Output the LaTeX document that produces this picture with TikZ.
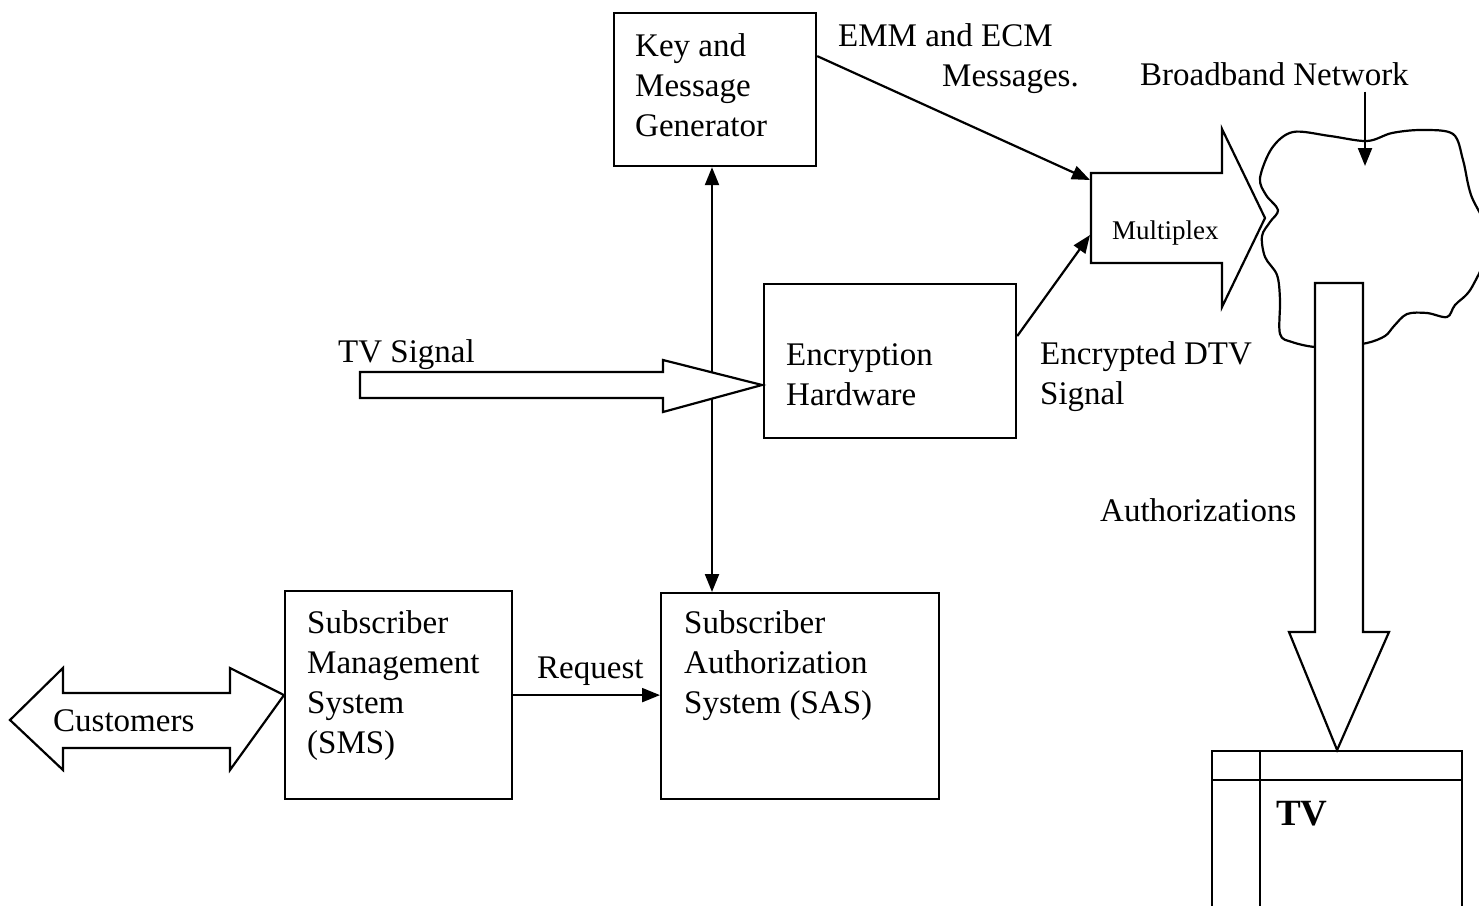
\documentclass[tikz,border=0pt]{standalone}
\usepackage{fontspec}
\setmainfont{Liberation Serif}
\usetikzlibrary{arrows.meta}
\newcommand\mylines[1]{\begin{tabular}[t]{@{}l@{}}#1\end{tabular}}
\begin{document}
\begin{tikzpicture}[x=1pt,y=-1pt,
  box/.style={draw, line width=2.2pt, inner sep=0pt, anchor=north west},
  txt/.style={anchor=base west, inner sep=0pt, font=\fontsize{33}{40}\selectfont},
  conn/.style={line width=2.2pt, -{Triangle[length=18pt,width=14pt]}},
  dconn/.style={line width=2.2pt, {Triangle[length=18pt,width=14pt]}-{Triangle[length=18pt,width=14pt]}},
  fat/.style={draw, line width=2.2pt, fill=white, line join=miter},
  plain/.style={line width=2.2pt}]
\useasboundingbox (0,0) rectangle (1479,905);

% boxes
\node[box, minimum width=202pt, minimum height=153pt] (kmg) at (613,12) {};
\node[box, minimum width=252pt, minimum height=154pt] (enc) at (763,283) {};
\node[box, minimum width=227pt, minimum height=208pt] (sms) at (284,590) {};
\node[box, minimum width=278pt, minimum height=206pt] (sas) at (660,592) {};

% box texts
\node[txt] (kmgt) at (635,56) {\mylines{Key and\\Message\\Generator}};
\node[txt] (enct) at (786,365) {\mylines{Encryption\\Hardware}};
\node[txt] (smst) at (307,633) {\mylines{Subscriber\\Management\\System\\(SMS)}};
\node[txt] (sast) at (684,633) {\mylines{Subscriber\\Authorization\\System (SAS)}};

% labels
\node[txt] (emm1) at (838,46) {EMM and ECM};
\node[txt] (emm2) at (942,86) {Messages.};
\node[txt] (bbn) at (1140,85) {Broadband Network};
\node[txt] (tvs) at (338,362) {TV Signal};
\node[txt] (edtv) at (1040,364) {\mylines{Encrypted DTV\\Signal}};
\node[txt] (auth) at (1100,521) {Authorizations};
\node[txt] (req) at (537,678) {Request};

% vertical double connector (behind TV signal arrow)
\coordinate (vx) at (712,0);
\draw[dconn] (kmg.south -| vx) -- (sas.north -| vx);

% TV signal fat arrow
\draw[fat] (360,372) -- (663,372) -- (663,360) -- (762,385) -- (663,412) -- (663,398) -- (360,398) -- cycle;

% cloud
\draw[plain, line join=round] plot[smooth cycle, tension=0.55] coordinates {
 (1260,178) (1272,148) (1293,132) (1330,136) (1367,141) (1392,133) (1422,130)
 (1453,134) (1463,160) (1471,195) (1490,240) (1472,287) (1455,305) (1447,317)
 (1427,313) (1407,314) (1394,326) (1385,336) (1367,343) (1340,346) (1315,347)
 (1292,342) (1280,334) (1280,300) (1277,275) (1265,257) (1262,236) (1270,222)
 (1278,210) (1266,195)};

% Multiplex fat arrow
\draw[fat] (1091,173) -- (1222,173) -- (1222,129) -- (1265,218) -- (1222,307) -- (1222,263) -- (1091,263) -- cycle;
\node[txt, font=\fontsize{27}{32}\selectfont] (mux) at (1112,239) {Multiplex};
\coordinate (mxa) at (1090,180);
\coordinate (mxb) at (1090,235);

% connectors into multiplex
\draw[conn] ([yshift=33.5pt]kmg.east) -- (mxa);
\draw[conn] ([yshift=25pt]enc.east) -- (mxb);

% broadband network pointer
\coordinate (cloudpt) at (1365,166);
\draw[conn] ([yshift=-6pt]bbn.south -| cloudpt) -- (cloudpt);

% TV set
\node[box, minimum width=250pt, minimum height=170pt] (tv) at (1211,750) {};
\draw[plain] (1211,780) -- (1461,780);
\draw[plain] (1260,750) -- (1260,925);
\node[anchor=base west, inner sep=0pt, font=\fontsize{37}{40}\selectfont\bfseries] (tvt) at (1276,825) {TV};

% Authorizations fat arrow
\draw[fat] (1315,283) -- (1363,283) -- (1363,632) -- (1389,632) -- (tv.north) -- (1289,632) -- (1315,632) -- cycle;

% Customers double fat arrow
\draw[fat] (10,720) -- (63,668) -- (63,693) -- (230,693) -- (230,668) -- (sms.west) -- (230,770) -- (230,748) -- (63,748) -- (63,770) -- cycle;
\node[txt] (cust) at (53,731) {Customers};

% Request connector
\draw[conn] (sms.east) -- (sms.east -| sas.west);
\end{tikzpicture}
\end{document}
